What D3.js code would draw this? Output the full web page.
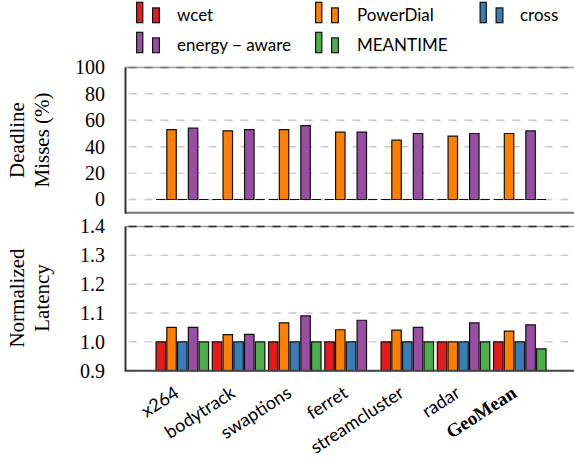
<!DOCTYPE html>
<html>
<head>
<meta charset="utf-8">
<script src="https://cdn.jsdelivr.net/npm/d3@7"></script>
<style>
  html, body { margin: 0; padding: 0; background: #fff; }
  svg { display: block; }
  .tick-label { font-family: "Liberation Serif", "Times New Roman", serif; font-size: 20px; fill: #000; }
  .axis-title { font-family: "Liberation Serif", "Times New Roman", serif; font-size: 21px; fill: #000; }
  .legend-text { font-family: Lato, "Open Sans", sans-serif; font-size: 17px; fill: #000; }
  .cat-label { font-family: Lato, "Open Sans", sans-serif; font-size: 18px; fill: #000; }
</style>
</head>
<body>
<svg id="chart" width="574" height="461"></svg>
<script>
// Benchmarks on the x axis
const categories = ["x264", "bodytrack", "swaptions", "ferret", "streamcluster", "radar", "GeoMean"];
// Schedulers compared
const seriesNames = ["wcet", "PowerDial", "cross", "energy \u2212 aware", "MEANTIME"];
const seriesColors = ["#e41a1c", "#ff7f00", "#377eb8", "#984ea3", "#4daf4a"];

// Deadline misses (%) per scheduler, one value per benchmark
const missesWcet       = [0, 0, 0, 0, 0, 0, 0];
const missesPowerDial  = [53, 52, 53, 51, 45, 48, 50];
const missesCross      = [0, 0, 0, 0, 0, 0, 0];
const missesEnergy     = [54, 53, 56, 51, 50, 50, 52];
const missesMeantime   = [0, 0, 0, 0, 0, 0, 0];

// Normalized latency per scheduler
const latencyWcet      = [1.0, 1.0, 1.0, 1.0, 1.0, 1.0, 1.0];
const latencyPowerDial = [1.05, 1.025, 1.066, 1.042, 1.041, 1.0, 1.037];
const latencyCross     = [1.0, 1.0, 1.0, 1.0, 1.0, 1.0, 1.0];
const latencyEnergy    = [1.05, 1.026, 1.09, 1.075, 1.05, 1.066, 1.059];
const latencyMeantime  = [1.0, 1.0, 1.0, 0.86, 1.0, 1.0, 0.976];

// Axis ticks
const missesTicks  = [0, 20, 40, 60, 80, 100];
const latencyTicks = [0.9, 1.0, 1.1, 1.2, 1.3, 1.4];

const missesSeries  = [missesWcet, missesPowerDial, missesCross, missesEnergy, missesMeantime];
const latencySeries = [latencyWcet, latencyPowerDial, latencyCross, latencyEnergy, latencyMeantime];

const svg = d3.select("#chart");

const plotLeft = 125.5;
const plotRight = 576;

const x = d3.scalePoint().domain(categories).range([182.3, 519.8]);
const xs = d3.scaleBand().domain(d3.range(seriesNames.length)).range([-26.25, 26.25]).paddingInner(0.12);

function barPath(x0, w, yTop, yBase) {
  return `M${x0},${yBase}V${yTop}H${x0 + w}V${yBase}Z`;
}

function drawPanel(opts) {
  const { y, ticks, data, fmt, topGrid, bottomColor, titleLines, titleY } = opts;
  const g = svg.append("g");
  const yTop = y(ticks[ticks.length - 1]);
  const yBottom = y.range()[0];

  // dashed horizontal grid
  g.selectAll("line.grid").data(ticks).join("line")
    .attr("x1", plotLeft).attr("x2", plotRight)
    .attr("y1", d => y(d)).attr("y2", d => y(d))
    .attr("stroke", "#c8c8c8").attr("stroke-width", 1.4)
    .attr("stroke-dasharray", "8,8").attr("stroke-dashoffset", -3);

  // top frame line
  g.append("line").attr("x1", plotLeft).attr("x2", plotRight)
    .attr("y1", yTop).attr("y2", yTop)
    .attr("stroke", "#9a9a9a").attr("stroke-width", 1.5);
  g.append("line").attr("x1", plotLeft).attr("x2", plotRight)
    .attr("y1", yTop).attr("y2", yTop)
    .attr("stroke", topGrid).attr("stroke-width", 1.5)
    .attr("stroke-dasharray", "8,8").attr("stroke-dashoffset", -3);

  // bars
  const base = opts.barBase != null ? y(opts.barBase) : yBottom;
  const baseVal = y.invert(base);
  data.forEach((vals, si) => {
    g.append("g").selectAll("path").data(vals).join("path")
      .attr("d", (v, i) => {
        const cx = x(categories[i]) + xs(si);
        const top = y(Math.max(v, baseVal));
        return barPath(cx, xs.bandwidth(), Math.min(top, base), base);
      })
      .attr("fill", seriesColors[si])
      .attr("stroke", "#111").attr("stroke-width", 1.2)
      .attr("stroke-linejoin", "miter");
  });

  // bottom axis line
  g.append("line").attr("x1", plotLeft).attr("x2", plotRight)
    .attr("y1", yBottom).attr("y2", yBottom)
    .attr("stroke", bottomColor).attr("stroke-width", 2);

  // left axis line
  g.append("line").attr("x1", plotLeft).attr("x2", plotLeft)
    .attr("y1", yTop).attr("y2", yBottom + 1)
    .attr("stroke", "#333").attr("stroke-width", 2);

  // tick labels
  g.selectAll("text.tick-label").data(ticks).join("text")
    .attr("class", "tick-label")
    .attr("x", 105).attr("y", d => y(d))
    .attr("text-anchor", "end").attr("dy", "0.34em")
    .text(fmt);

  // axis title (two rotated lines)
  titleLines.forEach((line, k) => {
    g.append("text").attr("class", "axis-title")
      .attr("transform", `translate(${opts.titleX[k]},${titleY}) rotate(-90)`)
      .attr("text-anchor", "middle")
      .text(line);
  });
}

// Upper panel: deadline misses
const yMisses = d3.scaleLinear().domain([-10, 100]).range([212.7, 67.5]);
drawPanel({
  y: yMisses, ticks: missesTicks, data: missesSeries,
  fmt: d3.format("d"), topGrid: "#7a7a7a", bottomColor: "#777",
  titleLines: ["Deadline", "Misses (%)"], titleX: [24, 48.5], titleY: 140, barBase: 0
});

// Lower panel: normalized latency
const yLatency = d3.scaleLinear().domain([0.9, 1.4]).range([370.7, 226.5]);
drawPanel({
  y: yLatency, ticks: latencyTicks, data: latencySeries,
  fmt: d3.format(".1f"), topGrid: "#333", bottomColor: "#444",
  titleLines: ["Normalized", "Latency"], titleX: [23.5, 49], titleY: 298
});

// Benchmark labels under the lower panel
svg.append("g").selectAll("text").data(categories).join("text")
  .attr("class", "cat-label")
  .attr("transform", d => `translate(${x(d) - 2},396) rotate(-33)`)
  .attr("text-anchor", "end")
  .style("font-family", d => d === "GeoMean" ? "'Liberation Serif', serif" : null)
  .style("font-weight", d => d === "GeoMean" ? "bold" : null)
  .style("font-size", d => d === "GeoMean" ? "19px" : null)
  .text(d => d);

// Legend: two bars of different heights per entry
const legendPos = [
  { x: 136, row: 0 }, { x: 315, row: 0 }, { x: 479.5, row: 0 },
  { x: 136, row: 1 }, { x: 315, row: 1 }
];
const textOffset = [41, 42, 40.5, 41, 42];
const legend = svg.append("g");
seriesNames.forEach((name, i) => {
  const p = legendPos[i];
  const base = 23.3 + p.row * 30;
  const lg = legend.append("g");
  lg.append("rect").attr("x", p.x + 0.6).attr("y", base - 21.6 + 0.6)
    .attr("width", 6.2).attr("height", 21.6 - 1.2)
    .attr("fill", seriesColors[i]).attr("stroke", "#111").attr("stroke-width", 1.2);
  lg.append("rect").attr("x", p.x + 16 + 0.6).attr("y", base - 16 + 0.6)
    .attr("width", 6.8).attr("height", 16 - 1.2)
    .attr("fill", seriesColors[i]).attr("stroke", "#111").attr("stroke-width", 1.2);
  lg.append("text").attr("class", "legend-text")
    .attr("x", p.x + textOffset[i]).attr("y", base - 2.6)
    .text(name);
});
</script>
</body>
</html>
